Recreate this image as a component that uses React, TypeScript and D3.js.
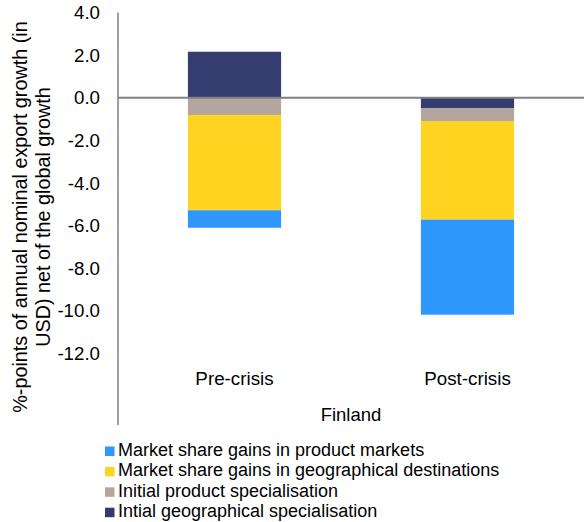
import React from "react";
import * as d3 from "d3";

const categories = ["Pre-crisis", "Post-crisis"];
const groupLabel = "Finland";
const seriesKeys = ["geo", "prod", "mktGeo", "mktProd"];
const seriesNames: Record<string, string> = {
  mktProd: "Market share gains in product markets",
  mktGeo: "Market share gains in geographical destinations",
  prod: "Initial product specialisation",
  geo: "Intial geographical specialisation",
};
const legendOrder = ["mktProd", "mktGeo", "prod", "geo"];
const initialGeo = [2.16, -0.48];
const initialProd = [-0.81, -0.61];
const mktShareGeo = [-4.47, -4.63];
const mktShareProd = [-0.82, -4.46];
const yTicks = [4, 2, 0, -2, -4, -6, -8, -10, -12];

const colors: Record<string, string> = {
  mktProd: "#2F98FF",
  mktGeo: "#FFD421",
  prod: "#B3A69F",
  geo: "#353C70",
};

const W = 584;
const H = 522;
const FONT = "'Liberation Sans', Arial, sans-serif";

export default function App() {
  const rows = categories.map((c, i) => ({
    cat: c,
    geo: initialGeo[i],
    prod: initialProd[i],
    mktGeo: mktShareGeo[i],
    mktProd: mktShareProd[i],
  }));
  const stacked = d3
    .stack<any>()
    .keys(seriesKeys)
    .offset(d3.stackOffsetDiverging)(rows);

  const y = d3.scaleLinear().domain([-12, 4]).range([353.5, 12.5]);
  const x = d3
    .scaleBand()
    .domain(categories)
    .range([118, 584])
    .paddingInner(0.6)
    .paddingOuter(0.3);
  const axisX = 118;
  const step = x.step();

  return (
    <svg
      width={W}
      height={H}
      style={{ position: "absolute", left: 0, top: 0, background: "#fff" }}
      fontFamily={FONT}
    >
      {stacked.map((s) =>
        s.map((d, i) => (
          <rect
            key={s.key + i}
            x={x(categories[i])}
            width={x.bandwidth()}
            y={y(Math.max(d[0], d[1]))}
            height={Math.abs(y(d[0]) - y(d[1]))}
            fill={colors[s.key]}
          />
        ))
      )}
      {/* zero line */}
      <line x1={axisX} x2={W} y1={y(0)} y2={y(0)} stroke="#808080" strokeWidth={2} />
      {/* vertical axis */}
      <line x1={axisX} x2={axisX} y1={y(4)} y2={425} stroke="#808080" strokeWidth={1.5} />
      {yTicks.map((t) => (
        <text
          key={t}
          x={100}
          y={y(t)}
          dy="0.35em"
          textAnchor="end"
          fontSize={18.7}
          fill="#000"
        >
          {t.toFixed(1)}
        </text>
      ))}
      {categories.map((c) => (
        <text
          key={c}
          x={(x(c) as number) + x.bandwidth() / 2}
          y={385}
          textAnchor="middle"
          fontSize={18.8}
          fill="#000"
        >
          {c}
        </text>
      ))}
      <text x={(axisX + W) / 2} y={421} textAnchor="middle" fontSize={18.5} fill="#000">
        {groupLabel}
      </text>
      <text
        transform={`translate(27,217) rotate(-90)`}
        textAnchor="middle"
        fontSize={19.8}
        fill="#000"
      >
        <tspan x={0} y={0}>%-points of annual nominal export growth (in</tspan>
        <tspan x={0} y={23}>USD) net of the global growth</tspan>
      </text>
      {legendOrder.map((k, i) => (
        <g key={k} transform={`translate(0, ${456 + i * 20.4})`}>
          <rect x={105} y={-9.5} width={9.5} height={9.5} fill={colors[k]} />
          <text x={118} y={0} fontSize={18} fill="#000">
            {seriesNames[k]}
          </text>
        </g>
      ))}
    </svg>
  );
}
